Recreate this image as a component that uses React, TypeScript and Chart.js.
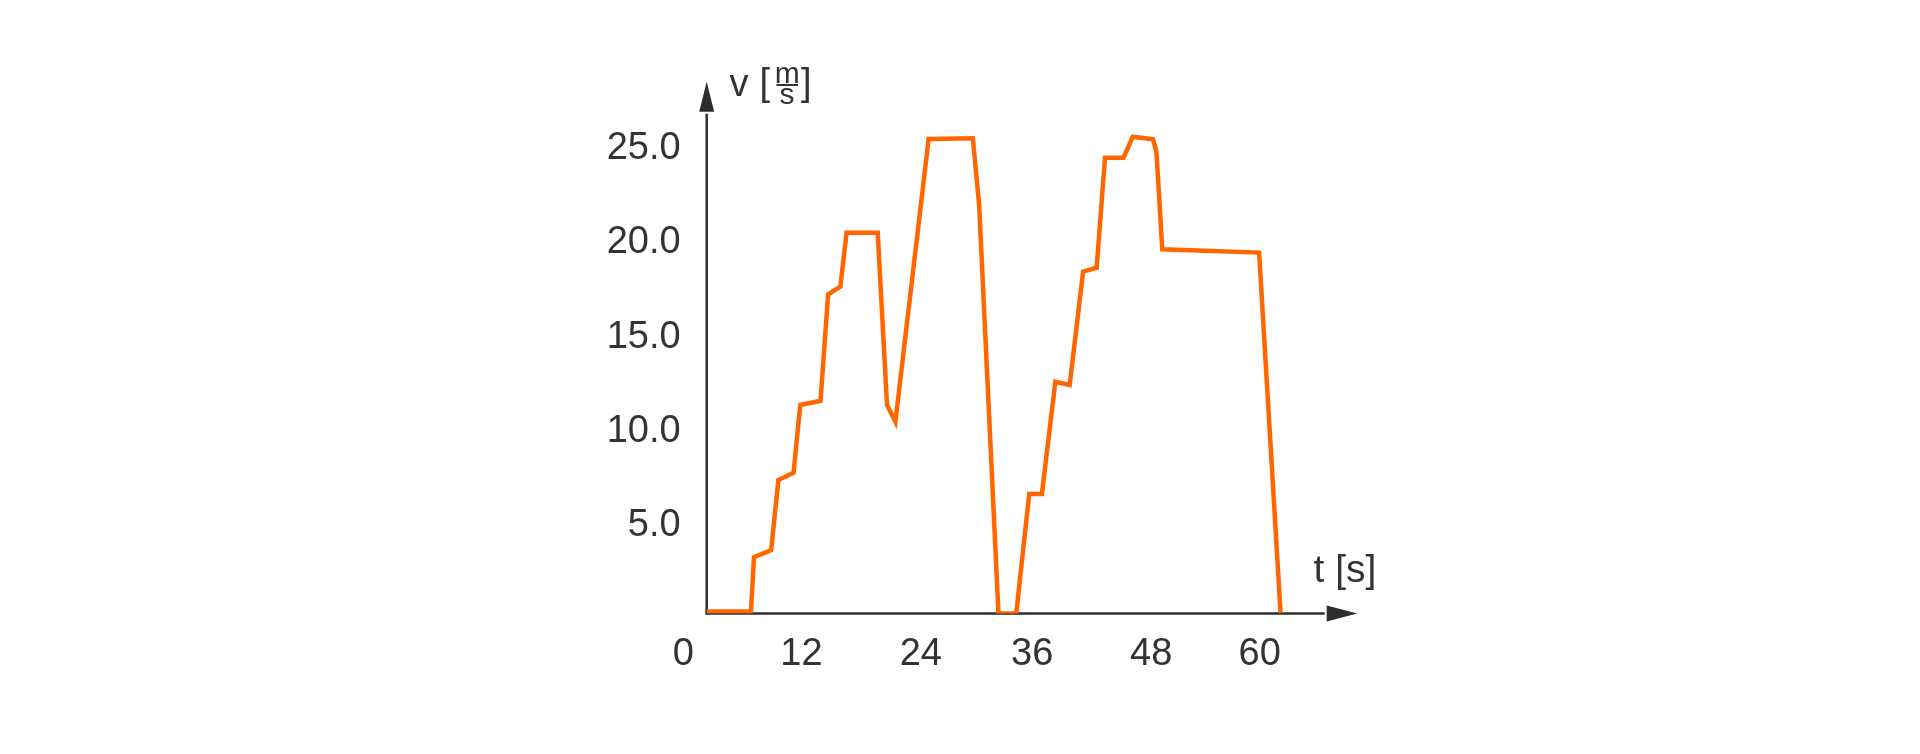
import React, { useEffect, useRef } from "react";
import { Chart, registerables } from "chart.js";

Chart.register(...registerables);

// time [s]
const tValues = [
  0, 4.61, 4.92, 6.71, 7.46, 9.04, 9.74, 11.85, 12.64, 13.91, 14.56, 17.8,
  18.77, 19.64, 23.1, 27.7, 28.36, 30.37, 32.22, 33.57, 34.89, 36.29, 37.78,
  39.18, 40.59, 41.46, 43.39, 44.35, 46.46, 46.81, 47.42, 57.5, 59.73,
];
// velocity [m/s]
const vValues = [
  0.1, 0.1, 2.98, 3.36, 7.07, 7.46, 11.05, 11.27, 16.91, 17.31, 20.17, 20.17,
  11.05, 10.16, 25.14, 25.18, 21.64, 0.0, 0.0, 6.33, 6.33, 12.28, 12.11, 18.11,
  18.32, 24.15, 24.15, 25.26, 25.12, 24.47, 19.3, 19.12, 0.04,
];
// x tick labels and where the reference places them along the t axis
const xTickLabels = ["0", "12", "24", "36", "48", "60"];
const xTickPos = [0, 12.3, 24.72, 36.32, 48.7, 60];
const yTicks = [5, 10, 15, 20, 25];

const FONT = "'Liberation Sans', Arial, Helvetica, sans-serif";
const TEXT = "#333333";
const AXIS = "#2e2e2e";
const LINE = "#ff6600";

const axesPlugin = {
  id: "arrowAxes",
  beforeDatasetsDraw(chart: any) {
    const ctx = chart.ctx;
    const x = chart.scales.x;
    const y = chart.scales.y;
    const ox = x.getPixelForValue(0);
    const oy = y.getPixelForValue(0);
    ctx.save();
    ctx.strokeStyle = AXIS;
    ctx.fillStyle = AXIS;
    ctx.lineWidth = 2.5;
    // y axis
    const yTip = 81.7;
    const yBase = 111.7;
    ctx.beginPath();
    ctx.moveTo(ox, oy + 1);
    ctx.lineTo(ox, yBase + 2);
    ctx.stroke();
    ctx.beginPath();
    ctx.moveTo(ox, yTip);
    ctx.lineTo(ox - 7.5, yBase);
    ctx.lineTo(ox + 7.5, yBase);
    ctx.closePath();
    ctx.fill();
    // x axis
    const xBase = 1326.7;
    const xTip = 1357.3;
    ctx.beginPath();
    ctx.moveTo(ox - 1, oy);
    ctx.lineTo(xBase - 2, oy);
    ctx.stroke();
    ctx.beginPath();
    ctx.moveTo(xTip, oy);
    ctx.lineTo(xBase, oy - 8);
    ctx.lineTo(xBase, oy + 8);
    ctx.closePath();
    ctx.fill();
    ctx.restore();
  },
  afterDraw(chart: any) {
    const ctx = chart.ctx;
    ctx.save();
    ctx.fillStyle = TEXT;
    ctx.textAlign = "left";
    ctx.textBaseline = "alphabetic";
    ctx.font = `38px ${FONT}`;
    ctx.fillText("v", 729.5, 95.5);
    ctx.fillText("[", 759.5, 95);
    ctx.fillText("]", 801, 95);
    ctx.font = `30px ${FONT}`;
    ctx.textAlign = "center";
    ctx.fillText("m", 787.3, 83);
    ctx.fillText("s", 787, 104);
    ctx.fillRect(776.5, 84, 21.5, 2);
    ctx.textAlign = "left";
    ctx.font = `39px ${FONT}`;
    ctx.fillText("t [s]", 1313.5, 582);
    ctx.restore();
  },
};

export default function App() {
  const ref = useRef<HTMLCanvasElement | null>(null);
  useEffect(() => {
    if (!ref.current) return;
    const points = tValues.map((t, i) => ({ x: t, y: vValues[i] }));
    const chart = new Chart(ref.current, {
      type: "line",
      data: {
        datasets: [
          {
            data: points,
            borderColor: LINE,
            borderWidth: 4.5,
            pointRadius: 0,
            fill: false,
            tension: 0,
            borderJoinStyle: "miter",
          },
        ],
      },
      options: {
        animation: false,
        responsive: true,
        maintainAspectRatio: false,
        layout: { padding: { left: 606.7, right: 560, top: 85, bottom: 40.5 } },
        plugins: { legend: { display: false }, tooltip: { enabled: false } },
        scales: {
          x: {
            type: "linear",
            min: 0,
            max: 68,
            grid: { display: false, drawTicks: false },
            border: { display: false },
            afterBuildTicks: (s: any) => {
              s.ticks = xTickPos.map((v) => ({ value: v }));
            },
            afterFit: (s: any) => {
              s.height = 100;
            },
            ticks: {
              autoSkip: false,
              maxRotation: 0,
              labelOffset: -23.4,
              padding: 18,
              color: TEXT,
              font: { family: FONT, size: 38 },
              callback: (_v: any, i: number) => xTickLabels[i],
            },
          },
          y: {
            type: "linear",
            min: 0,
            max: 28,
            grid: { display: false, drawTicks: false },
            border: { display: false },
            afterBuildTicks: (s: any) => {
              s.ticks = yTicks.map((v) => ({ value: v }));
            },
            afterFit: (s: any) => {
              s.width = 100;
            },
            ticks: {
              autoSkip: false,
              labelOffset: 6.7,
              padding: 26,
              color: TEXT,
              font: { family: FONT, size: 38 },
              callback: (v: any) => Number(v).toFixed(1),
            },
          },
        },
      },
      plugins: [axesPlugin],
    });
    return () => chart.destroy();
  }, []);
  return (
    <div style={{ position: "fixed", left: 0, top: 0, width: "1920px", height: "754px", background: "#fff" }}>
      <canvas ref={ref} />
    </div>
  );
}
